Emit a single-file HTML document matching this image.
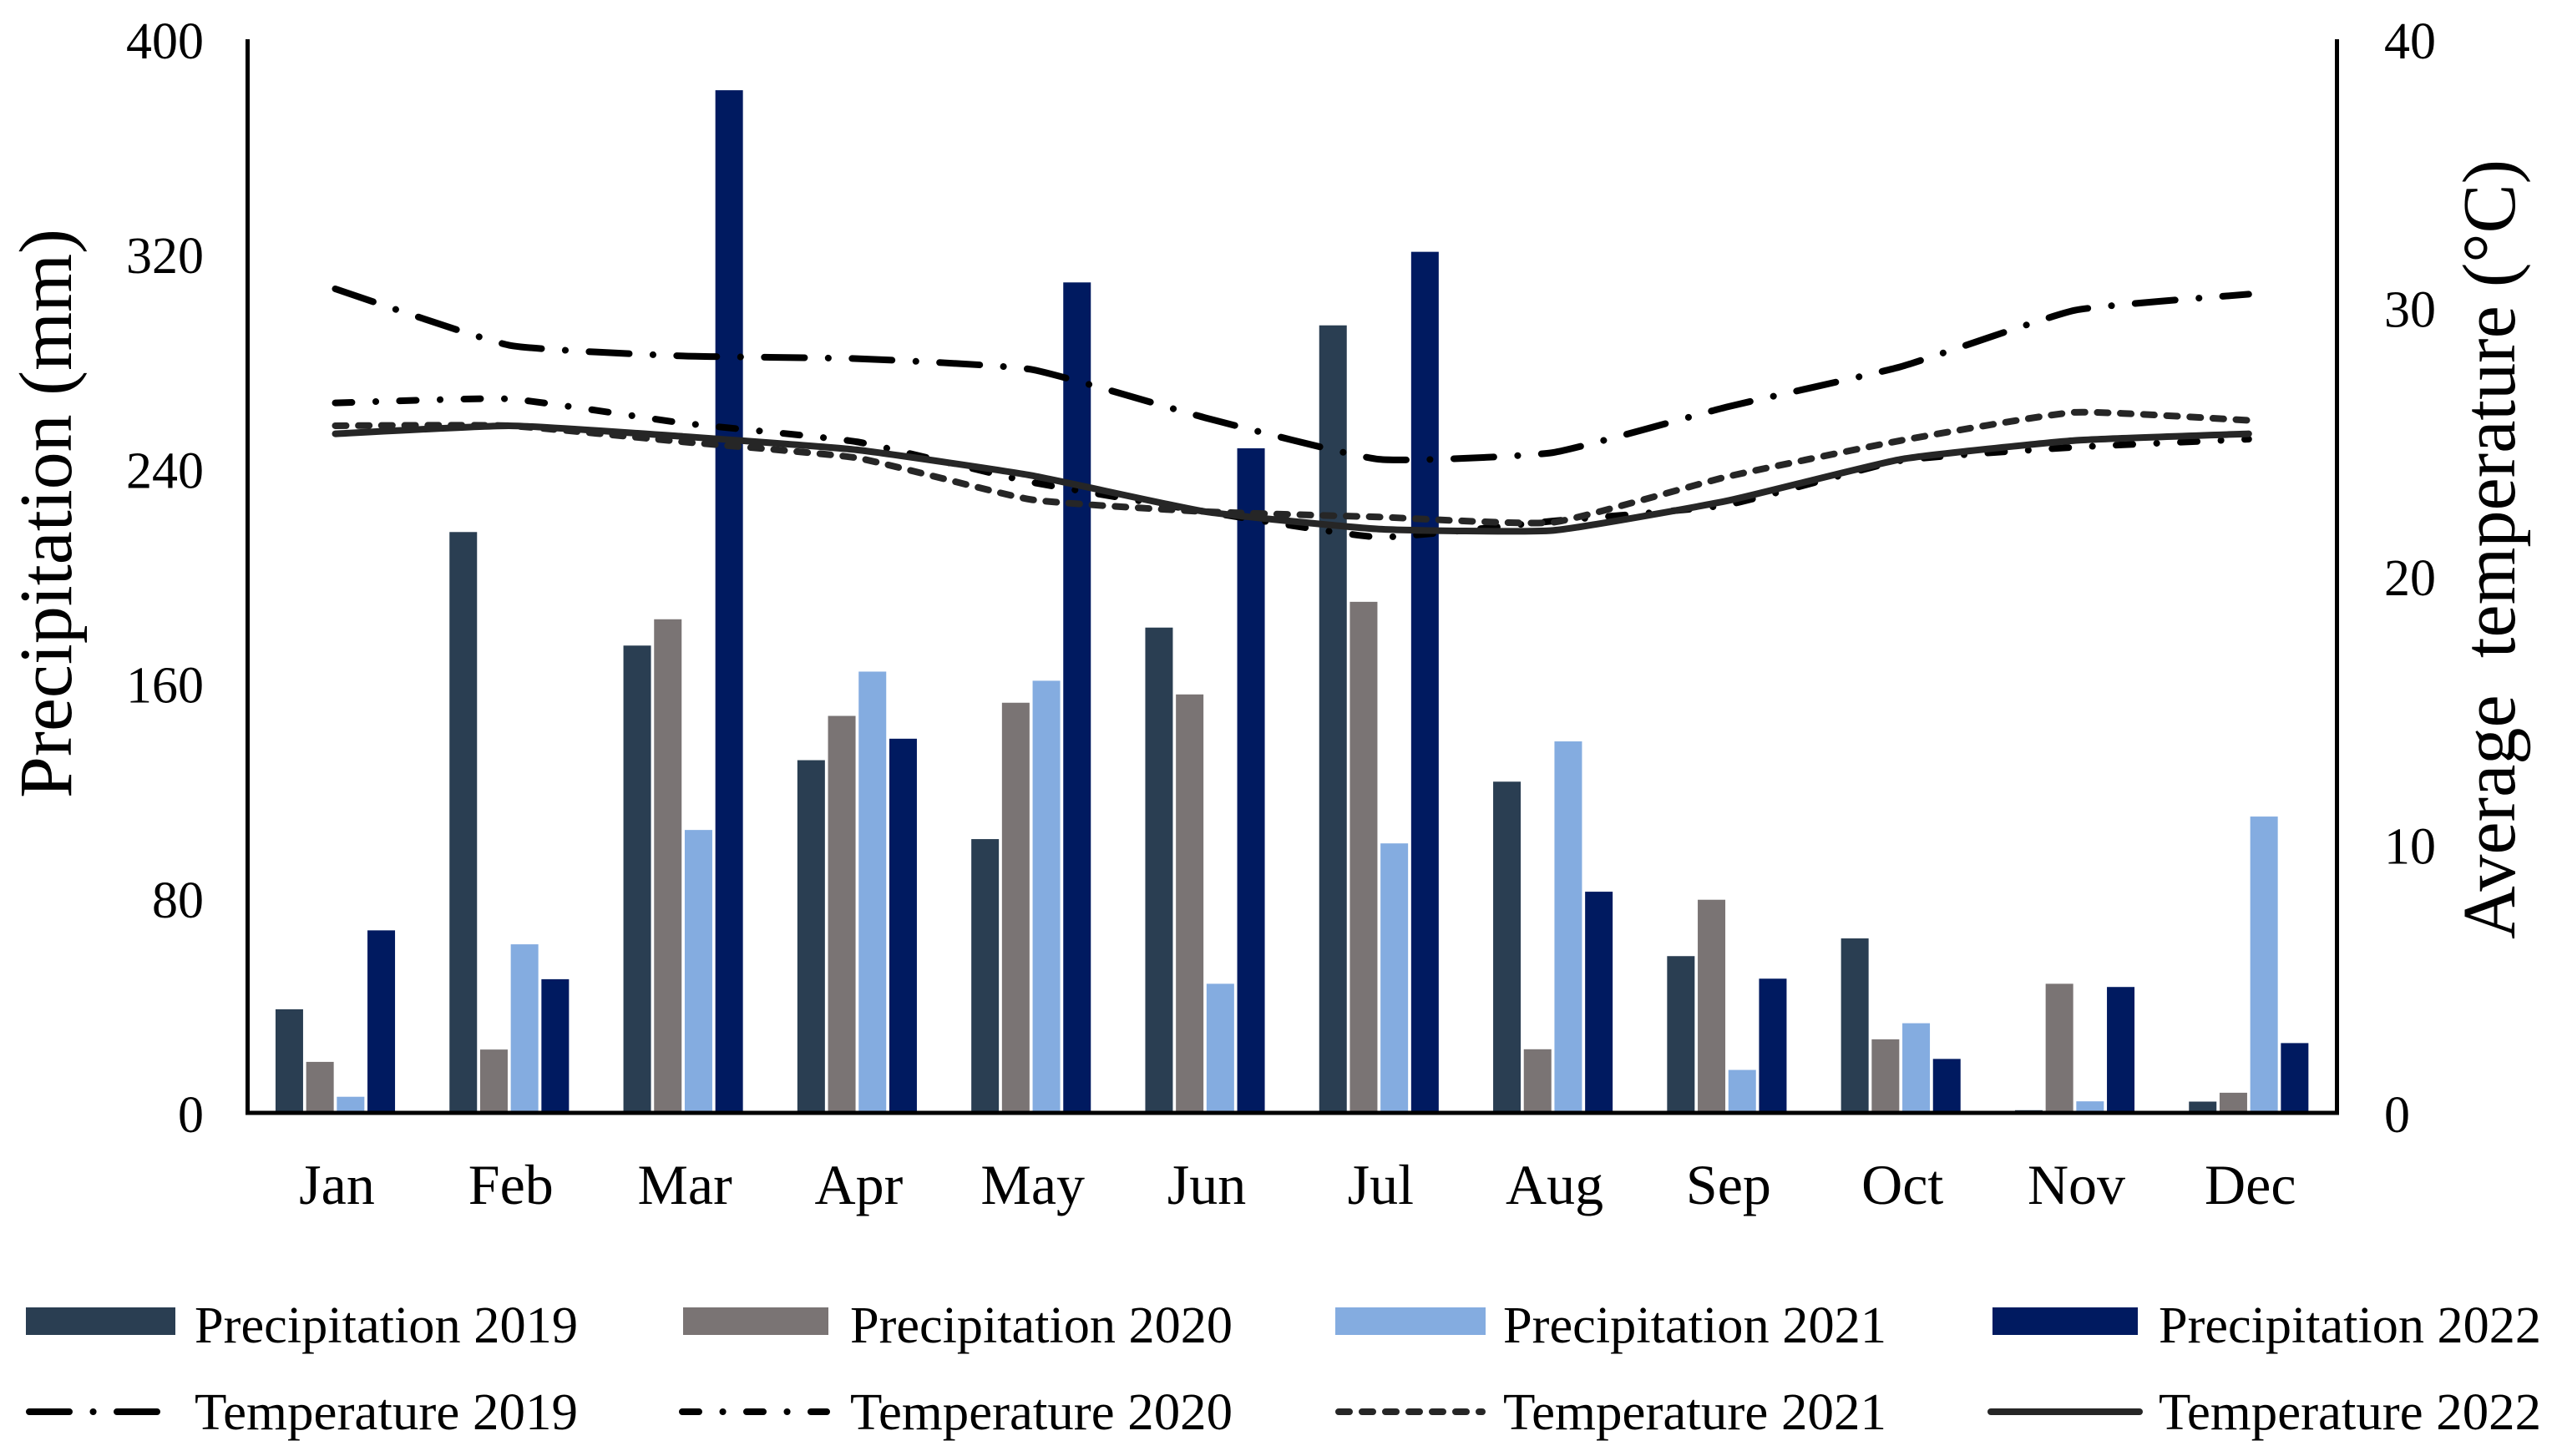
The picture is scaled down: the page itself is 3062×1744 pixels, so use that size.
<!DOCTYPE html>
<html lang="en">
<head>
<meta charset="utf-8">
<title>Precipitation and average temperature by month</title>
<style>
html,body{margin:0;padding:0;background:#fff;width:3062px;height:1744px;overflow:hidden}
svg{display:block}
text{font-family:"Liberation Serif",serif;fill:#000;white-space:pre}
.tick{font-size:62px}
.cat{font-size:68px}
.leg{font-size:62px}
.title{font-size:90px}
</style>
</head>
<body>
<svg id="chart" xmlns="http://www.w3.org/2000/svg" width="3062" height="1744" viewBox="0 0 3062 1744">
  <rect x="0" y="0" width="3062" height="1744" fill="#ffffff"/>
  <g id="bars"></g>
  <g id="lines"></g>
  <g id="axes">
    <line x1="296.5" y1="47" x2="296.5" y2="1335.5" stroke="#000" stroke-width="5"/>
    <line x1="2798.5" y1="47" x2="2798.5" y2="1335.5" stroke="#000" stroke-width="5"/>
    <line x1="294" y1="1333" x2="2801" y2="1333" stroke="#000" stroke-width="5"/>
  </g>
  <g id="ticks"></g>
  <text class="title" transform="translate(85,956) rotate(-90)" textLength="682" lengthAdjust="spacingAndGlyphs">Precipitation (mm)</text>
  <text class="title" transform="translate(3011,1125) rotate(-90)" textLength="934" lengthAdjust="spacingAndGlyphs">Average  temperature (°C)</text>
  <g id="legend">
    <g>
      <rect x="31" y="1566" width="179" height="33" fill="#2a3e52"/>
      <text class="leg" x="233" y="1608" textLength="459" lengthAdjust="spacingAndGlyphs">Precipitation 2019</text>
    </g>
    <g>
      <rect x="818" y="1566" width="174" height="33" fill="#7a7474"/>
      <text class="leg" x="1018" y="1608" textLength="458" lengthAdjust="spacingAndGlyphs">Precipitation 2020</text>
    </g>
    <g>
      <rect x="1599" y="1566" width="180" height="33" fill="#84ace0"/>
      <text class="leg" x="1800" y="1608" textLength="459" lengthAdjust="spacingAndGlyphs">Precipitation 2021</text>
    </g>
    <g>
      <rect x="2386" y="1566" width="174" height="33" fill="#001a60"/>
      <text class="leg" x="2585" y="1608" textLength="458" lengthAdjust="spacingAndGlyphs">Precipitation 2022</text>
    </g>
    <g>
      <line x1="35" y1="1691" x2="188" y2="1691" stroke="#000" stroke-width="8" stroke-linecap="round" stroke-dasharray="48 28.5 0.1 28.4"/>
      <text class="leg" x="233" y="1712" textLength="459" lengthAdjust="spacingAndGlyphs">Temperature 2019</text>
    </g>
    <g>
      <line x1="817" y1="1691" x2="990" y2="1691" stroke="#000" stroke-width="8" stroke-linecap="round" stroke-dasharray="20 28.5 0.1 28.4"/>
      <text class="leg" x="1018" y="1712" textLength="458" lengthAdjust="spacingAndGlyphs">Temperature 2020</text>
    </g>
    <g>
      <line x1="1603" y1="1691" x2="1775" y2="1691" stroke="#262626" stroke-width="8" stroke-linecap="round" stroke-dasharray="13 15"/>
      <text class="leg" x="1800" y="1712" textLength="459" lengthAdjust="spacingAndGlyphs">Temperature 2021</text>
    </g>
    <g>
      <line x1="2384" y1="1691" x2="2562" y2="1691" stroke="#262626" stroke-width="8" stroke-linecap="round"/>
      <text class="leg" x="2585" y="1712" textLength="458" lengthAdjust="spacingAndGlyphs">Temperature 2022</text>
    </g>
  </g>
</svg>
<script>
const months = ['Jan','Feb','Mar','Apr','May','Jun','Jul','Aug','Sep','Oct','Nov','Dec'];
const precipTicks = [0, 80, 160, 240, 320, 400];
const tempTicks = [0, 10, 20, 30, 40];
const precip2019 = [38.6, 216.4, 174.1, 131.4, 102, 180.8, 293.4, 123.4, 58.4, 65, 1, 4.2];
const precip2020 = [19, 23.6, 183.9, 147.9, 152.8, 155.9, 190.4, 23.7, 79.4, 27.4, 48.1, 7.5];
const precip2021 = [6, 62.8, 105.4, 164.4, 161, 48.1, 100.4, 138.4, 16, 33.4, 4.3, 110.4];
const precip2022 = [68, 49.8, 381, 139.4, 309.4, 247.6, 320.8, 82.4, 50, 20.1, 46.9, 26];
const temp2019 = [30.7, 28.6, 28.2, 28.1, 27.7, 25.9, 24.35, 24.6, 26.3, 27.8, 29.9, 30.5];
const temp2020 = [26.45, 26.6, 25.7, 25.0, 23.5, 22.4, 21.45, 22.05, 22.65, 24.3, 24.8, 25.1];
const temp2021 = [25.6, 25.6, 25.0, 24.4, 22.85, 22.4, 22.2, 22.0, 23.7, 25.05, 26.1, 25.8];
const temp2022 = [25.3, 25.6, 25.2, 24.7, 23.75, 22.4, 21.75, 21.7, 22.8, 24.35, 25.05, 25.3];

const SVG_NS = 'http://www.w3.org/2000/svg';
const PLOT_BOTTOM = 1333;
const PLOT_TOP = 47;
const PRECIP_MAX = 400;
const TEMP_MAX = 40;
const FIRST_CENTER = 401.5;
const CATEGORY_STEP = 208.3;
const BAR_WIDTH = 33;
const BAR_STEP = 36.7;

function xCenter(i) { return FIRST_CENTER + CATEGORY_STEP * i; }
function yPrecip(v) { return PLOT_BOTTOM - (PLOT_BOTTOM - PLOT_TOP) * v / PRECIP_MAX; }
function yTemp(v) { return PLOT_BOTTOM - (PLOT_BOTTOM - PLOT_TOP) * v / TEMP_MAX; }

const barsGroup = document.getElementById('bars');
const linesGroup = document.getElementById('lines');
const ticksGroup = document.getElementById('ticks');

const barSeries = [
  { year: '2019', values: precip2019, color: '#2a3e52' },
  { year: '2020', values: precip2020, color: '#7a7474' },
  { year: '2021', values: precip2021, color: '#84ace0' },
  { year: '2022', values: precip2022, color: '#001a60' }
];
barSeries.forEach(function (series, s) {
  series.values.forEach(function (v, i) {
    const bar = document.createElementNS(SVG_NS, 'rect');
    
    
    const groupWidth = 3 * BAR_STEP + BAR_WIDTH;
    bar.setAttribute('x', xCenter(i) - groupWidth / 2 + s * BAR_STEP);
    bar.setAttribute('y', yPrecip(v));
    bar.setAttribute('width', BAR_WIDTH);
    bar.setAttribute('height', PLOT_BOTTOM - yPrecip(v));
    bar.setAttribute('fill', series.color);
    barsGroup.appendChild(bar);
  });
});

function smoothPath(values) {
  const pts = values.map(function (v, i) { return [xCenter(i), yTemp(v)]; });
  let d = 'M' + pts[0][0] + ' ' + pts[0][1];
  for (let i = 0; i < pts.length - 1; i++) {
    const p0 = pts[Math.max(i - 1, 0)];
    const p1 = pts[i];
    const p2 = pts[i + 1];
    const p3 = pts[Math.min(i + 2, pts.length - 1)];
    const c1x = p1[0] + (p2[0] - p0[0]) / 14;
    const c1y = p1[1] + (p2[1] - p0[1]) / 14;
    const c2x = p2[0] - (p3[0] - p1[0]) / 14;
    const c2y = p2[1] - (p3[1] - p1[1]) / 14;
    d += ' C' + c1x + ' ' + c1y + ' ' + c2x + ' ' + c2y + ' ' + p2[0] + ' ' + p2[1];
  }
  return d;
}

const lineSeries = [
  { year: '2019', values: temp2019, color: '#000000', dash: '48 28.5 0.1 28.4' },
  { year: '2020', values: temp2020, color: '#000000', dash: '20 28.5 0.1 28.4' },
  { year: '2021', values: temp2021, color: '#262626', dash: '13 14.7' },
  { year: '2022', values: temp2022, color: '#262626', dash: 'none' }
];
lineSeries.forEach(function (series) {
  const line = document.createElementNS(SVG_NS, 'path');
  
  
  line.setAttribute('d', smoothPath(series.values));
  line.setAttribute('fill', 'none');
  line.setAttribute('stroke', series.color);
  line.setAttribute('stroke-width', '8');
  line.setAttribute('stroke-linecap', 'round');
  line.setAttribute('stroke-linejoin', 'round');
  line.setAttribute('stroke-dasharray', series.dash);
  linesGroup.appendChild(line);
});

precipTicks.forEach(function (t) {
  const label = document.createElementNS(SVG_NS, 'text');
  
  
  label.setAttribute('class', 'tick');
  label.setAttribute('x', 244);
  label.setAttribute('y', yPrecip(t) + 23);
  label.setAttribute('text-anchor', 'end');
  label.textContent = String(t);
  ticksGroup.appendChild(label);
});

tempTicks.forEach(function (t) {
  const label = document.createElementNS(SVG_NS, 'text');
  
  
  label.setAttribute('class', 'tick');
  label.setAttribute('x', 2855);
  label.setAttribute('y', yTemp(t) + 23);
  label.textContent = String(t);
  ticksGroup.appendChild(label);
});

months.forEach(function (m, i) {
  const label = document.createElementNS(SVG_NS, 'text');
  
  
  label.setAttribute('class', 'cat');
  label.setAttribute('x', xCenter(i) + 2);
  label.setAttribute('y', 1442);
  label.setAttribute('text-anchor', 'middle');
  label.textContent = m;
  ticksGroup.appendChild(label);
});
</script>
</body>
</html>
